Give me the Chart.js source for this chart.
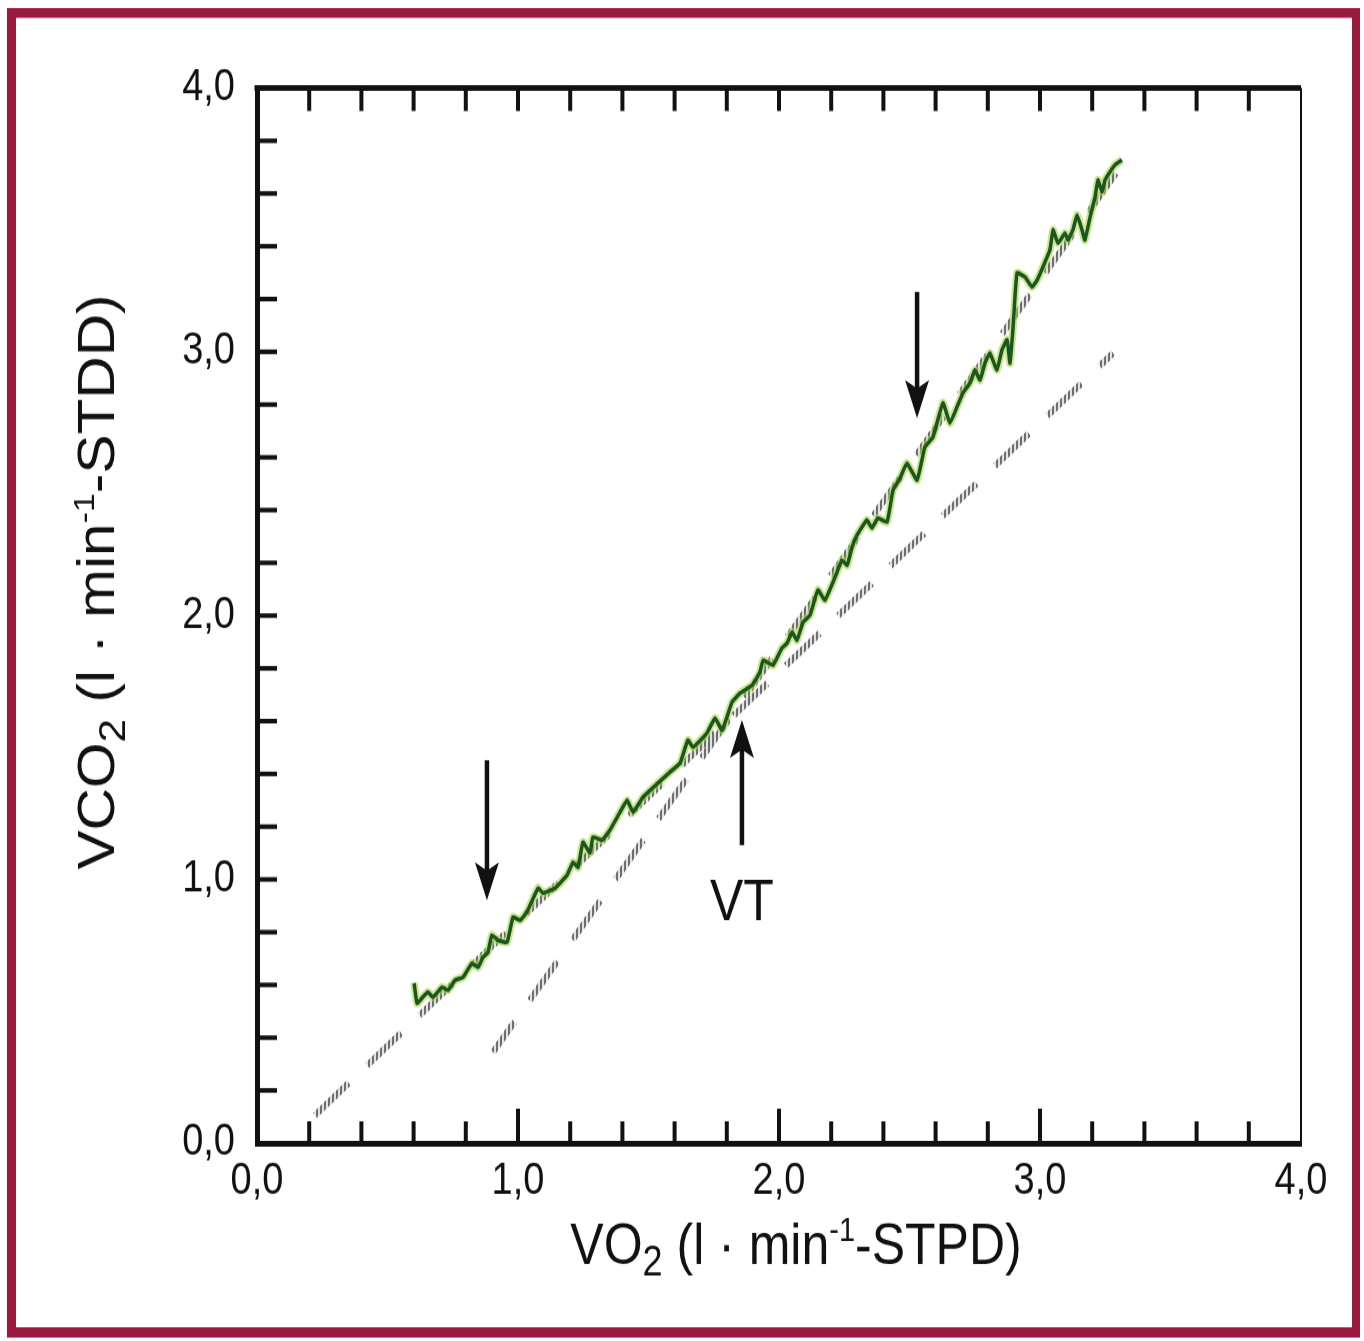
<!DOCTYPE html>
<html><head><meta charset="utf-8">
<script src="https://cdn.jsdelivr.net/npm/chart.js@4.4.1/dist/chart.umd.min.js"></script>
<style>
html,body{margin:0;padding:0;background:#fff;overflow:hidden;}
#wrap{width:1364px;height:1341px;overflow:hidden;position:relative;}
#c{display:block;transform:scaleY(1.1501);transform-origin:0 0;}
</style></head>
<body><div id="wrap"><canvas id="c" width="1364" height="1166"></canvas></div>
<script>
// ---------- data ----------
const xTickLabels = ['0,0', '1,0', '2,0', '3,0', '4,0'];
const yTickLabels = ['0,0', '1,0', '2,0', '3,0', '4,0'];
const xTitleParts = [['VO', ''], ['2', 'sub'], [' (l · min', ''], ['-1', 'sup'], ['-STPD)', '']];
const yTitleParts = [['VCO', ''], ['2', 'sub'], [' (l · min', ''], ['-1', 'sup'], ['-STDD)', '']];
const vtText = 'VT';

// measured VO2 / VCO2 trace
const vo2 = [0.602,0.613,0.632,0.655,0.674,0.709,0.732,0.759,0.789,0.824,0.847,0.866,0.885,0.900,0.923,0.958,0.981,1.008,1.034,1.077,1.096,1.142,1.188,1.211,1.230,1.249,1.276,1.287,1.322,1.352,1.391,1.418,1.441,1.479,1.536,1.582,1.621,1.651,1.670,1.724,1.755,1.782,1.820,1.851,1.897,1.927,1.939,1.977,2.011,2.031,2.050,2.069,2.092,2.119,2.149,2.176,2.215,2.241,2.261,2.280,2.299,2.337,2.356,2.379,2.414,2.437,2.464,2.490,2.529,2.559,2.590,2.628,2.655,2.682,2.705,2.732,2.751,2.770,2.789,2.808,2.835,2.854,2.874,2.885,2.897,2.912,2.943,2.969,2.989,3.011,3.038,3.050,3.069,3.096,3.107,3.126,3.142,3.161,3.172,3.192,3.211,3.222,3.238,3.249,3.268,3.287,3.314];
const vco2 = [0.607,0.531,0.550,0.573,0.554,0.591,0.580,0.618,0.629,0.682,0.667,0.705,0.724,0.789,0.770,0.762,0.857,0.845,0.876,0.967,0.948,0.967,1.016,1.065,1.046,1.141,1.100,1.160,1.149,1.187,1.255,1.300,1.255,1.312,1.365,1.407,1.441,1.528,1.501,1.555,1.611,1.566,1.672,1.706,1.736,1.786,1.831,1.812,1.877,1.896,1.937,1.907,1.975,2.002,2.097,2.059,2.146,2.210,2.191,2.260,2.305,2.362,2.332,2.370,2.355,2.476,2.521,2.578,2.514,2.639,2.677,2.806,2.730,2.791,2.844,2.882,2.931,2.893,2.957,2.995,2.931,3.007,3.045,2.957,3.094,3.299,3.283,3.246,3.272,3.321,3.386,3.462,3.412,3.450,3.424,3.462,3.518,3.462,3.424,3.511,3.587,3.651,3.606,3.651,3.682,3.708,3.727];

// regression lines (S1 below VT, S2 above VT)
const s1X = [0.222, 3.280];
const s1Y = [0.106, 2.995];
const s2X = [0.904, 3.295];
const s2Y = [0.345, 3.682];

// arrows
const arrowX    = [0.881, 2.529, 1.858];
const arrowFrom = [1.452, 3.227, 1.130];
const arrowTo   = [0.921, 2.749, 1.604];
const vtPos = [1.858, 0.905];

// ---------- chart ----------
const FONT = '"Liberation Sans", Arial, Helvetica, sans-serif';
const CW = 1364, CH = 1166;
const AREA = {left: 257, right: 1301, top: 76.5, bottom: 994};

const canvas = document.getElementById('c');
const ctx0 = canvas.getContext('2d');
function hatchPattern() {
  const c = document.createElement('canvas');
  c.width = 4; c.height = 4;
  const g = c.getContext('2d');
  g.fillStyle = '#e2e2e2'; g.fillRect(0, 0, 4, 4);
  g.fillStyle = '#6e6e6e'; g.fillRect(0, 0, 2, 4);
  return ctx0.createPattern(c, 'repeat');
}
const hatch = hatchPattern();

const pts = (xs, ys) => xs.map((x, i) => ({x, y: ys[i]}));

function drawRich(ctx, parts, size, cx, cy, rotate) {
  ctx.save();
  ctx.translate(cx, cy);
  if (rotate) ctx.rotate(-Math.PI / 2);
  const segs = parts.map(([t, k]) => {
    const s = k === 'sub' ? size * 0.72 : k === 'sup' ? size * 0.58 : size;
    ctx.font = s + 'px ' + FONT;
    return {t, k, s, w: ctx.measureText(t).width};
  });
  const total = segs.reduce((a, b) => a + b.w, 0);
  let x = -total / 2;
  const base = size * 0.36;
  ctx.fillStyle = '#111';
  ctx.textBaseline = 'alphabetic';
  ctx.textAlign = 'left';
  segs.forEach(sg => {
    ctx.font = sg.s + 'px ' + FONT;
    let y = base;
    if (sg.k === 'sub') y += size * 0.2;
    if (sg.k === 'sup') y -= size * 0.4;
    ctx.fillText(sg.t, x, y);
    x += sg.w;
  });
  ctx.restore();
}

const decor = {
  id: 'decor',
  beforeDraw(chart) {
    const c = chart.ctx;
    c.save();
    c.fillStyle = '#ffffff';
    c.fillRect(0, 0, CW, CH);
    c.fillStyle = '#9a1a3e';
    c.fillRect(7, 7, 1353, 8.5);
    c.fillRect(7, 1154, 1353, 9);
    c.fillRect(7, 7, 9, 1156);
    c.fillRect(1352, 7, 8, 1156);
    c.restore();
  },
  afterDraw(chart) {
    const c = chart.ctx, xs = chart.scales.x, ys = chart.scales.y, a = chart.chartArea;
    c.save();
    c.strokeStyle = '#111';
    c.lineCap = 'butt';
    // top and right frame lines
    c.lineWidth = 5;
    c.beginPath(); c.moveTo(a.left - 2.5, a.top); c.lineTo(a.right, a.top); c.stroke();
    c.lineWidth = 2;
    c.beginPath(); c.moveTo(a.right, a.top); c.lineTo(a.right, a.bottom); c.stroke();
    // inward ticks
    c.lineWidth = 4;
    xs.ticks.forEach(t => {
      const i = Math.round(t.value * 5);
      if (i <= 0 || i >= 20) return;
      const px = xs.getPixelForValue(t.value);
      const len = i % 5 === 0 ? 30 : 19;
      c.beginPath(); c.moveTo(px, a.bottom); c.lineTo(px, a.bottom - len); c.stroke();
      c.beginPath(); c.moveTo(px, a.top); c.lineTo(px, a.top + 20); c.stroke();
    });
    c.lineWidth = 4;
    ys.ticks.forEach(t => {
      const i = Math.round(t.value * 5);
      if (i <= 0 || i >= 20) return;
      const py = ys.getPixelForValue(t.value);
      c.beginPath(); c.moveTo(a.left, py); c.lineTo(a.left + 20, py); c.stroke();
    });
    // arrows
    c.fillStyle = '#111';
    arrowX.forEach((ax, k) => {
      const px = xs.getPixelForValue(ax);
      const y1 = ys.getPixelForValue(arrowFrom[k]);
      const y2 = ys.getPixelForValue(arrowTo[k]);
      const dir = Math.sign(y2 - y1);
      const hl = 33, hw = 12;
      c.lineWidth = 4.5;
      c.beginPath(); c.moveTo(px, y1); c.lineTo(px, y2 - dir * hl * 0.6); c.stroke();
      c.beginPath();
      c.moveTo(px, y2);
      c.lineTo(px - hw, y2 - dir * hl);
      c.lineTo(px, y2 - dir * hl * 0.78);
      c.lineTo(px + hw, y2 - dir * hl);
      c.closePath(); c.fill();
    });
    // VT label
    c.font = '50px ' + FONT;
    c.textAlign = 'center';
    c.textBaseline = 'middle';
    c.fillText(vtText, xs.getPixelForValue(vtPos[0]), ys.getPixelForValue(vtPos[1]));
    // axis titles
    drawRich(c, xTitleParts, 50, 796, 1081, false);
    drawRich(c, yTitleParts, 51, 96, 506, true);
    c.restore();
  }
};

new Chart(canvas, {
  type: 'line',
  data: {
    datasets: [
      {data: pts(vo2, vco2), borderColor: '#1b5620', borderWidth: 3.5, pointRadius: 0, tension: 0.12, order: 0},
      {data: pts(vo2, vco2), borderColor: 'rgba(170,215,70,0.6)', borderWidth: 7.5, pointRadius: 0, tension: 0.12, order: 1},
      {data: pts(s1X, s1Y), borderColor: hatch, borderWidth: 6, borderDash: [44, 24], pointRadius: 0, order: 2},
      {data: pts(s2X, s2Y), borderColor: hatch, borderWidth: 6, borderDash: [44, 24], borderDashOffset: 10, pointRadius: 0, order: 3}
    ]
  },
  options: {
    responsive: false,
    devicePixelRatio: 1,
    animation: false,
    layout: {padding: {top: AREA.top, right: CW - AREA.right, bottom: 0, left: 0}},
    plugins: {legend: {display: false}, tooltip: {enabled: false}},
    scales: {
      x: {
        type: 'linear', min: 0, max: 4,
        grid: {display: false, drawTicks: false},
        border: {display: true, width: 5, color: '#111'},
        ticks: {
          stepSize: 0.2, autoSkip: false, maxRotation: 0, padding: 11,
          color: '#111', font: {family: FONT, size: 38},
          callback: v => { const i = Math.round(v * 5); return i % 5 === 0 ? xTickLabels[i / 5] : ''; }
        },
        afterFit: s => { s.height = CH - AREA.bottom; }
      },
      y: {
        type: 'linear', min: 0, max: 4,
        grid: {display: false, drawTicks: false},
        border: {display: true, width: 5, color: '#111'},
        ticks: {
          stepSize: 0.2, autoSkip: false, padding: 22,
          color: '#111', font: {family: FONT, size: 38},
          callback: v => { const i = Math.round(v * 5); return i % 5 === 0 ? yTickLabels[i / 5] : ''; }
        },
        afterFit: s => { s.width = AREA.left; }
      }
    }
  },
  plugins: [decor]
});
</script>
</body></html>
